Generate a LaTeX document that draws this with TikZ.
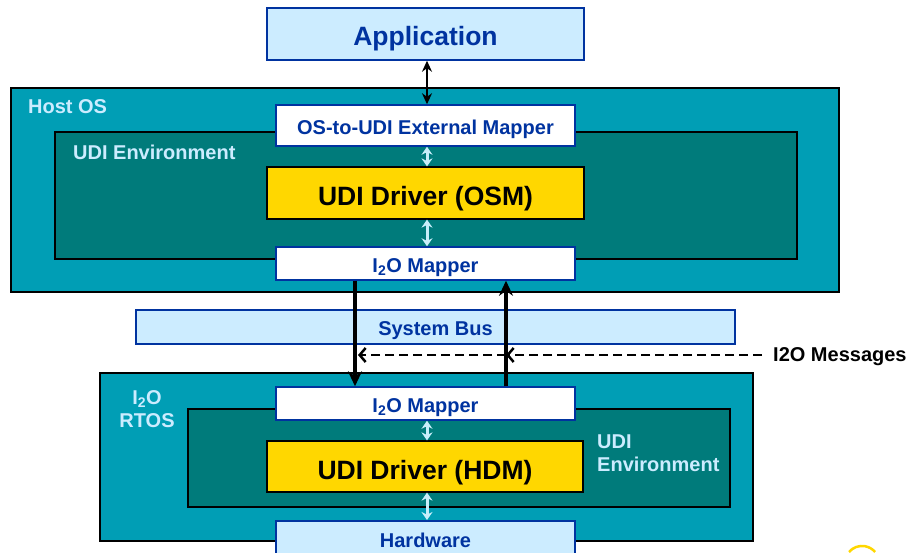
\documentclass[tikz,border=0pt]{standalone}
\usepackage{fontspec}
\setmainfont{Liberation Sans}
\usetikzlibrary{arrows.meta}
\definecolor{lblue}{HTML}{CCECFF}
\definecolor{dblue}{HTML}{0033A0}
\definecolor{hostc}{HTML}{009EB5}
\definecolor{envc}{HTML}{007B7B}
\definecolor{yel}{HTML}{FFD700}
\definecolor{lcyan}{HTML}{C8EEFA}
\tikzset{
  box/.style={draw=dblue, line width=1.5pt, inner sep=0pt, font=\bfseries\fontsize{20}{22}\selectfont, text=dblue, text height=17.3pt, text depth=0pt},
  whitebox/.style={box, fill=white},
  bluebox/.style={box, fill=lblue},
  drvbox/.style={draw=black, line width=1.2pt, fill=yel, font=\bfseries\fontsize{26.5}{30}\selectfont, text=black, text height=25pt, text depth=0pt},
  hostbox/.style={draw=black, line width=1.2pt, fill=hostc},
  envbox/.style={draw=black, line width=1.2pt, fill=envc},
  lbl/.style={font=\bfseries\fontsize{20}{23}\selectfont, text=lblue, inner sep=0pt},
  inarrow/.style={draw=lcyan, line width=3pt, {Stealth[length=8pt,width=11pt]}-{Stealth[length=8pt,width=11pt]}},
  busarrow/.style={draw=black, line width=3.5pt, -{Stealth[length=15pt,width=14pt]}},
  msgline/.style={black, line width=2.5pt, dash pattern=on 9pt off 5pt, -{Straight Barb[length=6pt,width=14pt]}},
}
\begin{document}
\begin{tikzpicture}[x=1pt,y=-1pt]
\useasboundingbox (0,0) rectangle (911,552);
% Host OS
\path[hostbox] (11,88) rectangle (839,292);
\path[envbox] (55,132) rectangle (797,259);
\node[lbl, anchor=west] (hostlbl) at (28,107) {Host OS};
\node[lbl, anchor=west] (envlbl1) at (73,152) {UDI Environment};
% Application
\node[bluebox, minimum width=317pt, minimum height=52pt, font=\bfseries\fontsize{26.5}{30}\selectfont, text height=23pt] (app) at (425.5,34) {Application};
\node[whitebox, minimum width=299pt, minimum height=41pt] (ext) at (425.5,125.5) {OS-to-UDI External Mapper};
\node[drvbox, minimum width=317pt, minimum height=52pt] (osm) at (425.5,193) {UDI Driver (OSM)};
\node[whitebox, minimum width=299pt, minimum height=33pt] (map1) at (425.5,263.5) {I\textsubscript{2}O Mapper};
% System Bus
\node[bluebox, minimum width=599pt, minimum height=34pt] (bus) at (435.5,327) {System Bus};
% I2O RTOS
\path[hostbox] (100,373) rectangle (753,541);
\path[envbox] (188,409) rectangle (730,507);
\node[lbl, align=center] (rtoslbl) at (147,409) {I\textsubscript{2}O\\RTOS};
\node[lbl, align=left, anchor=west] (envlbl2) at (597,453.5) {UDI\\Environment};
\node[whitebox, minimum width=299pt, minimum height=33pt] (map2) at (425.5,403.5) {I\textsubscript{2}O Mapper};
\node[drvbox, minimum width=316pt, minimum height=51pt] (hdm) at (425,466.5) {UDI Driver (HDM)};
\node[bluebox, minimum width=299pt, minimum height=40pt, anchor=north, text height=14pt] (hw) at (425.5,520) {Hardware};
% arrows
\draw[draw=black, line width=2pt, {Stealth[length=11pt,width=10pt]}-{Stealth[length=11pt,width=10pt]}] (app.south -| 427,0) -- (ext.north -| 427,0);
\draw[inarrow] (ext.south -| 427,0) -- (osm.north -| 427,0);
\draw[inarrow] (osm.south -| 427,0) -- (map1.north -| 427,0);
\draw[inarrow] (map2.south -| 427,0) -- (hdm.north -| 427,0);
\draw[inarrow] (hdm.south -| 427,0) -- (hw.north -| 427,0);
\draw[busarrow] (map1.south -| 355,0) -- (map2.north -| 355,0);
\draw[busarrow] (map2.north -| 506,0) -- (map1.south -| 506,0);
% messages
\node[font=\bfseries\fontsize{20}{23}\selectfont, anchor=west, inner sep=0pt] (msg) at (773,357) {I2O Messages};
\coordinate (m1) at (506,355);
\coordinate (m2) at (358,355);
\draw[msgline] (762,355) -- (m1);
\draw[msgline] (m1) -- (m2);
% yellow arc fragment
\draw[yel, line width=2.5pt] (849,552) arc[start angle=140, end angle=40, radius=17pt];
\end{tikzpicture}
\end{document}
